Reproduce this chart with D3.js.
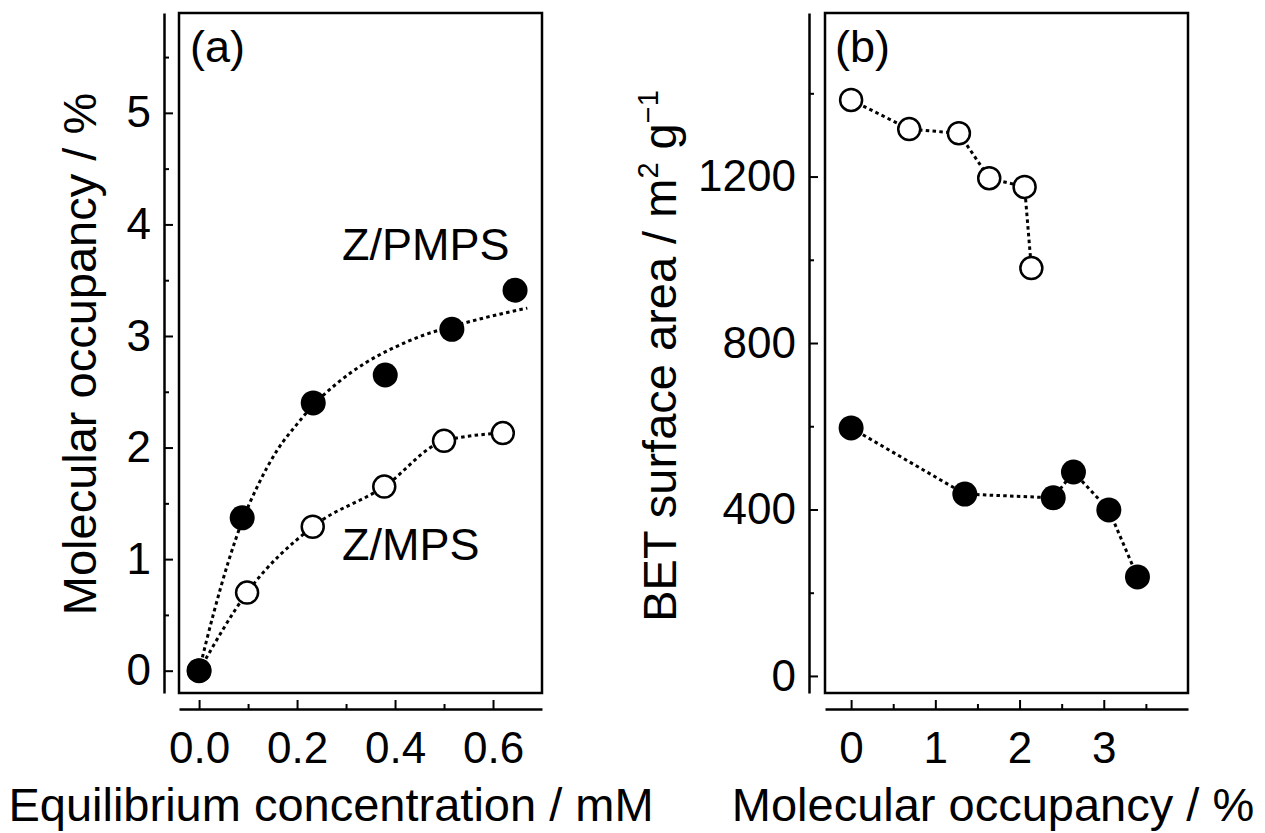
<!DOCTYPE html>
<html>
<head>
<meta charset="utf-8">
<script src="https://cdn.jsdelivr.net/npm/d3@7"></script>
<style>
body { margin: 0; background: #fff; }
svg { display: block; font-family: "Liberation Sans", Arial, sans-serif; }
.axis text { font-size: 44px; fill: #000; }
.axis path, .axis line { stroke: #000; }
.axis path { stroke-width: 2.5; }
.axis line { stroke-width: 2; }
.lbl { font-size: 45px; fill: #000; }
.ttl { font-size: 47px; fill: #000; }
</style>
</head>
<body>
<svg class="fig" width="1265" height="833"></svg>
<script>
// panel (a): occupancy vs equilibrium concentration
var concMPS = [0, 0.098, 0.232, 0.378, 0.50, 0.62];
var occMPS = [0, 0.70, 1.29, 1.65, 2.06, 2.13];
var concPMPS = [0, 0.088, 0.233, 0.380, 0.516, 0.645];
var occPMPS = [0, 1.37, 2.40, 2.65, 3.06, 3.41];
// dotted fit curve through Z/PMPS
var fitConc = [0, 0.03, 0.06, 0.088, 0.12, 0.16, 0.20, 0.233, 0.28, 0.34, 0.40, 0.46, 0.52, 0.58, 0.67];
var fitOcc = [0, 0.52, 0.98, 1.34, 1.66, 1.98, 2.21, 2.38, 2.57, 2.76, 2.90, 3.01, 3.09, 3.16, 3.25];

// panel (b): BET surface area vs occupancy
var occB_MPS = [0, 0.69, 1.28, 1.64, 2.06, 2.14];
var betMPS = [1384, 1314, 1304, 1196, 1175, 980];
var occB_PMPS = [0, 1.35, 2.40, 2.64, 3.06, 3.40];
var betPMPS = [596, 437, 428, 490, 399, 238];

var xTicksA = [0, 0.2, 0.4, 0.6], xMinorA = [0.1, 0.3, 0.5];
var yTicksA = [0, 1, 2, 3, 4, 5], yMinorA = [0.5, 1.5, 2.5, 3.5, 4.5, 5.5];
var xTicksB = [0, 1, 2, 3], xMinorB = [0.5, 1.5, 2.5, 3.5];
var yTicksB = [0, 400, 800, 1200], yMinorB = [200, 600, 1000, 1400];

var svg = d3.select('.fig');

var xa = d3.scaleLinear().domain([-0.041, 0.70]).range([179, 542]);
var ya = d3.scaleLinear().domain([-0.2, 5.895]).range([693, 13]);
var xb = d3.scaleLinear().domain([-0.31, 4.0]).range([825, 1188]);
var yb = d3.scaleLinear().domain([-41, 1593]).range([693, 13]);

function frame(x, y, axisX, axisY, xt, xm, yt, ym, xfmt) {
  svg.append('rect')
    .attr('x', x.range()[0]).attr('y', y.range()[1])
    .attr('width', x.range()[1] - x.range()[0])
    .attr('height', y.range()[0] - y.range()[1])
    .attr('fill', 'none').attr('stroke', '#000').attr('stroke-width', 2.5);

  // offset left axis, ticks point inward
  svg.append('g').attr('class', 'axis')
    .attr('transform', 'translate(' + axisX + ',0)')
    .call(d3.axisLeft(y).tickValues(yt).tickSizeInner(-9).tickSizeOuter(0).tickPadding(13).tickFormat(d3.format('d')));
  svg.append('g').attr('class', 'axis')
    .attr('transform', 'translate(' + axisX + ',0)')
    .call(d3.axisLeft(y).tickValues(ym).tickSizeInner(-5).tickSizeOuter(0).tickFormat(''))
    .select('.domain').remove();

  // offset bottom axis
  svg.append('g').attr('class', 'axis')
    .attr('transform', 'translate(0,' + axisY + ')')
    .call(d3.axisBottom(x).tickValues(xt).tickSizeInner(-9).tickSizeOuter(0).tickPadding(23).tickFormat(xfmt));
  svg.append('g').attr('class', 'axis')
    .attr('transform', 'translate(0,' + axisY + ')')
    .call(d3.axisBottom(x).tickValues(xm).tickSizeInner(-5).tickSizeOuter(0).tickFormat(''))
    .select('.domain').remove();
}

frame(xa, ya, 164, 709, xTicksA, xMinorA, yTicksA, yMinorA, d3.format('.1f'));
frame(xb, yb, 809, 709, xTicksB, xMinorB, yTicksB, yMinorB, d3.format('d'));

function dotted(xs, ys, x, y, curve) {
  var line = d3.line()
    .x(function(d) { return x(d[0]); })
    .y(function(d) { return y(d[1]); })
    .curve(curve);
  svg.append('path')
    .attr('d', line(d3.zip(xs, ys)))
    .attr('fill', 'none').attr('stroke', '#000')
    .attr('stroke-width', 3).attr('stroke-dasharray', '3.5,3.3');
}

function marks(xs, ys, x, y, filled) {
  svg.append('g').selectAll('circle')
    .data(d3.zip(xs, ys))
    .enter().append('circle')
    .attr('cx', function(d) { return x(d[0]); })
    .attr('cy', function(d) { return y(d[1]); })
    .attr('r', filled ? 12.5 : 11)
    .attr('fill', filled ? '#000' : '#fff')
    .attr('stroke', '#000').attr('stroke-width', filled ? 0 : 2.5);
}

dotted(concMPS, occMPS, xa, ya, d3.curveMonotoneX);
dotted(fitConc, fitOcc, xa, ya, d3.curveMonotoneX);
marks(concMPS, occMPS, xa, ya, false);
marks(concPMPS, occPMPS, xa, ya, true);

dotted(occB_MPS, betMPS, xb, yb, d3.curveLinear);
dotted(occB_PMPS, betPMPS, xb, yb, d3.curveLinear);
marks(occB_MPS, betMPS, xb, yb, false);
marks(occB_PMPS, betPMPS, xb, yb, true);

// labels
svg.append('text').attr('class', 'lbl').attr('x', 190).attr('y', 62).text('(a)');
svg.append('text').attr('class', 'lbl').attr('x', 835).attr('y', 62).text('(b)');
svg.append('text').attr('class', 'lbl').attr('x', 342).attr('y', 260).text('Z/PMPS');
svg.append('text').attr('class', 'lbl').attr('x', 342).attr('y', 560).text('Z/MPS');

svg.append('text').attr('class', 'ttl').attr('x', 331).attr('y', 821)
  .attr('text-anchor', 'middle').text('Equilibrium concentration / mM');
svg.append('text').attr('class', 'ttl').attr('x', 993).attr('y', 821)
  .attr('text-anchor', 'middle').text('Molecular occupancy / %');

svg.append('text').attr('class', 'ttl')
  .attr('transform', 'translate(96,354) rotate(-90)')
  .attr('text-anchor', 'middle').text('Molecular occupancy / %');

var bt = svg.append('text').attr('class', 'ttl')
  .attr('transform', 'translate(676,356) rotate(-90)')
  .attr('text-anchor', 'middle');
bt.append('tspan').text('BET surface area / m');
bt.append('tspan').attr('dy', -18).style('font-size', '29px').text('2');
bt.append('tspan').attr('dy', 18).text(' g');
bt.append('tspan').attr('dy', -18).style('font-size', '29px').text('\u22121');
</script>
</body>
</html>
